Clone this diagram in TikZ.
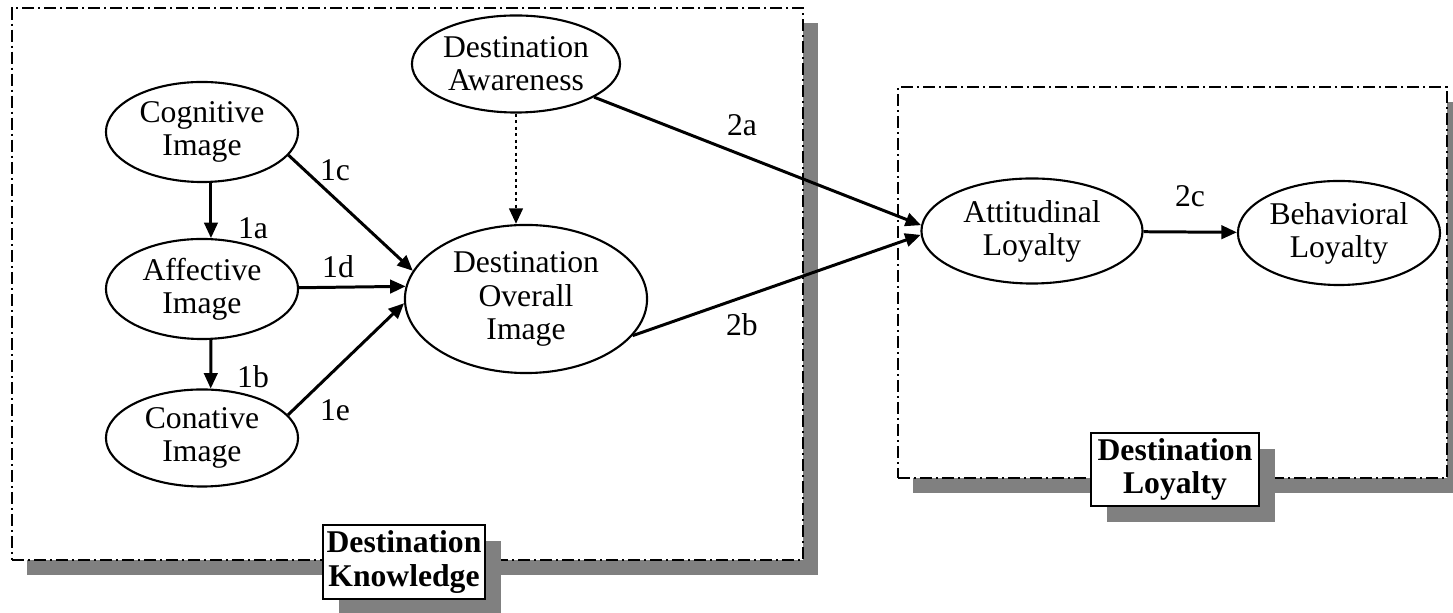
\documentclass[tikz,border=0pt]{standalone}
\usepackage{fontspec}
\setmainfont{Liberation Serif}
\usetikzlibrary{arrows.meta,shapes.geometric,shadows}

\begin{document}
\begin{tikzpicture}
        [x=0.01cm,y=-0.01cm,line width=0.6pt,
        every node/.style={font=\fontsize{9}{9.4}\selectfont,align=center,inner sep=0pt},
        latent/.style={ellipse,draw,fill=white},
        frame/.style={draw,fill=white,dash pattern=on 0.12cm off 0.04cm on 0.02cm off 0.04cm,
          drop shadow={shadow xshift=0.15cm,shadow yshift=-0.15cm,fill=black!50,opacity=1}},
        tag/.style={draw,fill=white,line width=0.5pt,font=\fontsize{9}{9.4}\selectfont\bfseries,
          drop shadow={shadow xshift=0.16cm,shadow yshift=-0.16cm,fill=black!50,opacity=1}},
        link/.style={line width=0.85pt,-{Triangle[length=4.4pt,width=3.8pt]}}]
        \useasboundingbox (0,0) rectangle (1453,613);

        % the two areas
        \node[frame,minimum width=7.91cm,minimum height=5.52cm] (kframe) at (407.5,284) {};
        \node[frame,minimum width=5.49cm,minimum height=3.91cm] (lframe) at (1172.5,282.5) {};
        \node[tag,minimum width=1.62cm,minimum height=0.74cm] (ktag) at (404,562) {Destination\\Knowledge};
        \node[tag,minimum width=1.68cm,minimum height=0.73cm] (ltag) at (1175,469.5) {Destination\\Loyalty};

        % constructs
        \node[latent,minimum width=1.92cm,minimum height=1.0cm] (cog) at (202,132) {Cognitive\\Image};
        \node[latent,minimum width=1.92cm,minimum height=1.0cm] (aff) at (202,289) {Affective\\Image};
        \node[latent,minimum width=1.92cm,minimum height=0.97cm] (con) at (202,438) {Conative\\Image};
        \node[latent,minimum width=2.08cm,minimum height=0.97cm] (awa) at (516,64) {Destination\\Awareness};
        \node[latent,minimum width=2.42cm,minimum height=1.48cm] (ovr) at (526,299) {Destination\\Overall\\Image};
        \node[latent,minimum width=2.21cm,minimum height=1.05cm] (att) at (1032,231) {Attitudinal\\Loyalty};
        \node[latent,minimum width=2.02cm,minimum height=1.04cm] (beh) at (1339,233) {Behavioral\\Loyalty};

        % paths
        \foreach \from/\to/\lab/\lx/\ly in {cog.-80/aff.80/1a/253/228, aff.-80/con.80/1b/253/377,
          cog.-15/ovr.166/1c/335/170, aff/ovr.174/1d/338/267, con.15/ovr.182/1e/335/410,
          awa.-23/att.177/2a/742/125, ovr.-19/att.182/2b/742/325, att/beh/2c/1190/196}
          {\draw[link] (\from) -- (\to);
           \node (l\lab) at (\lx,\ly) {\lab};}
        \draw[link,dash pattern=on 0.85pt off 1pt] (awa.south) -- (awa.south |- ovr.north);
    \end{tikzpicture}
\end{document}
